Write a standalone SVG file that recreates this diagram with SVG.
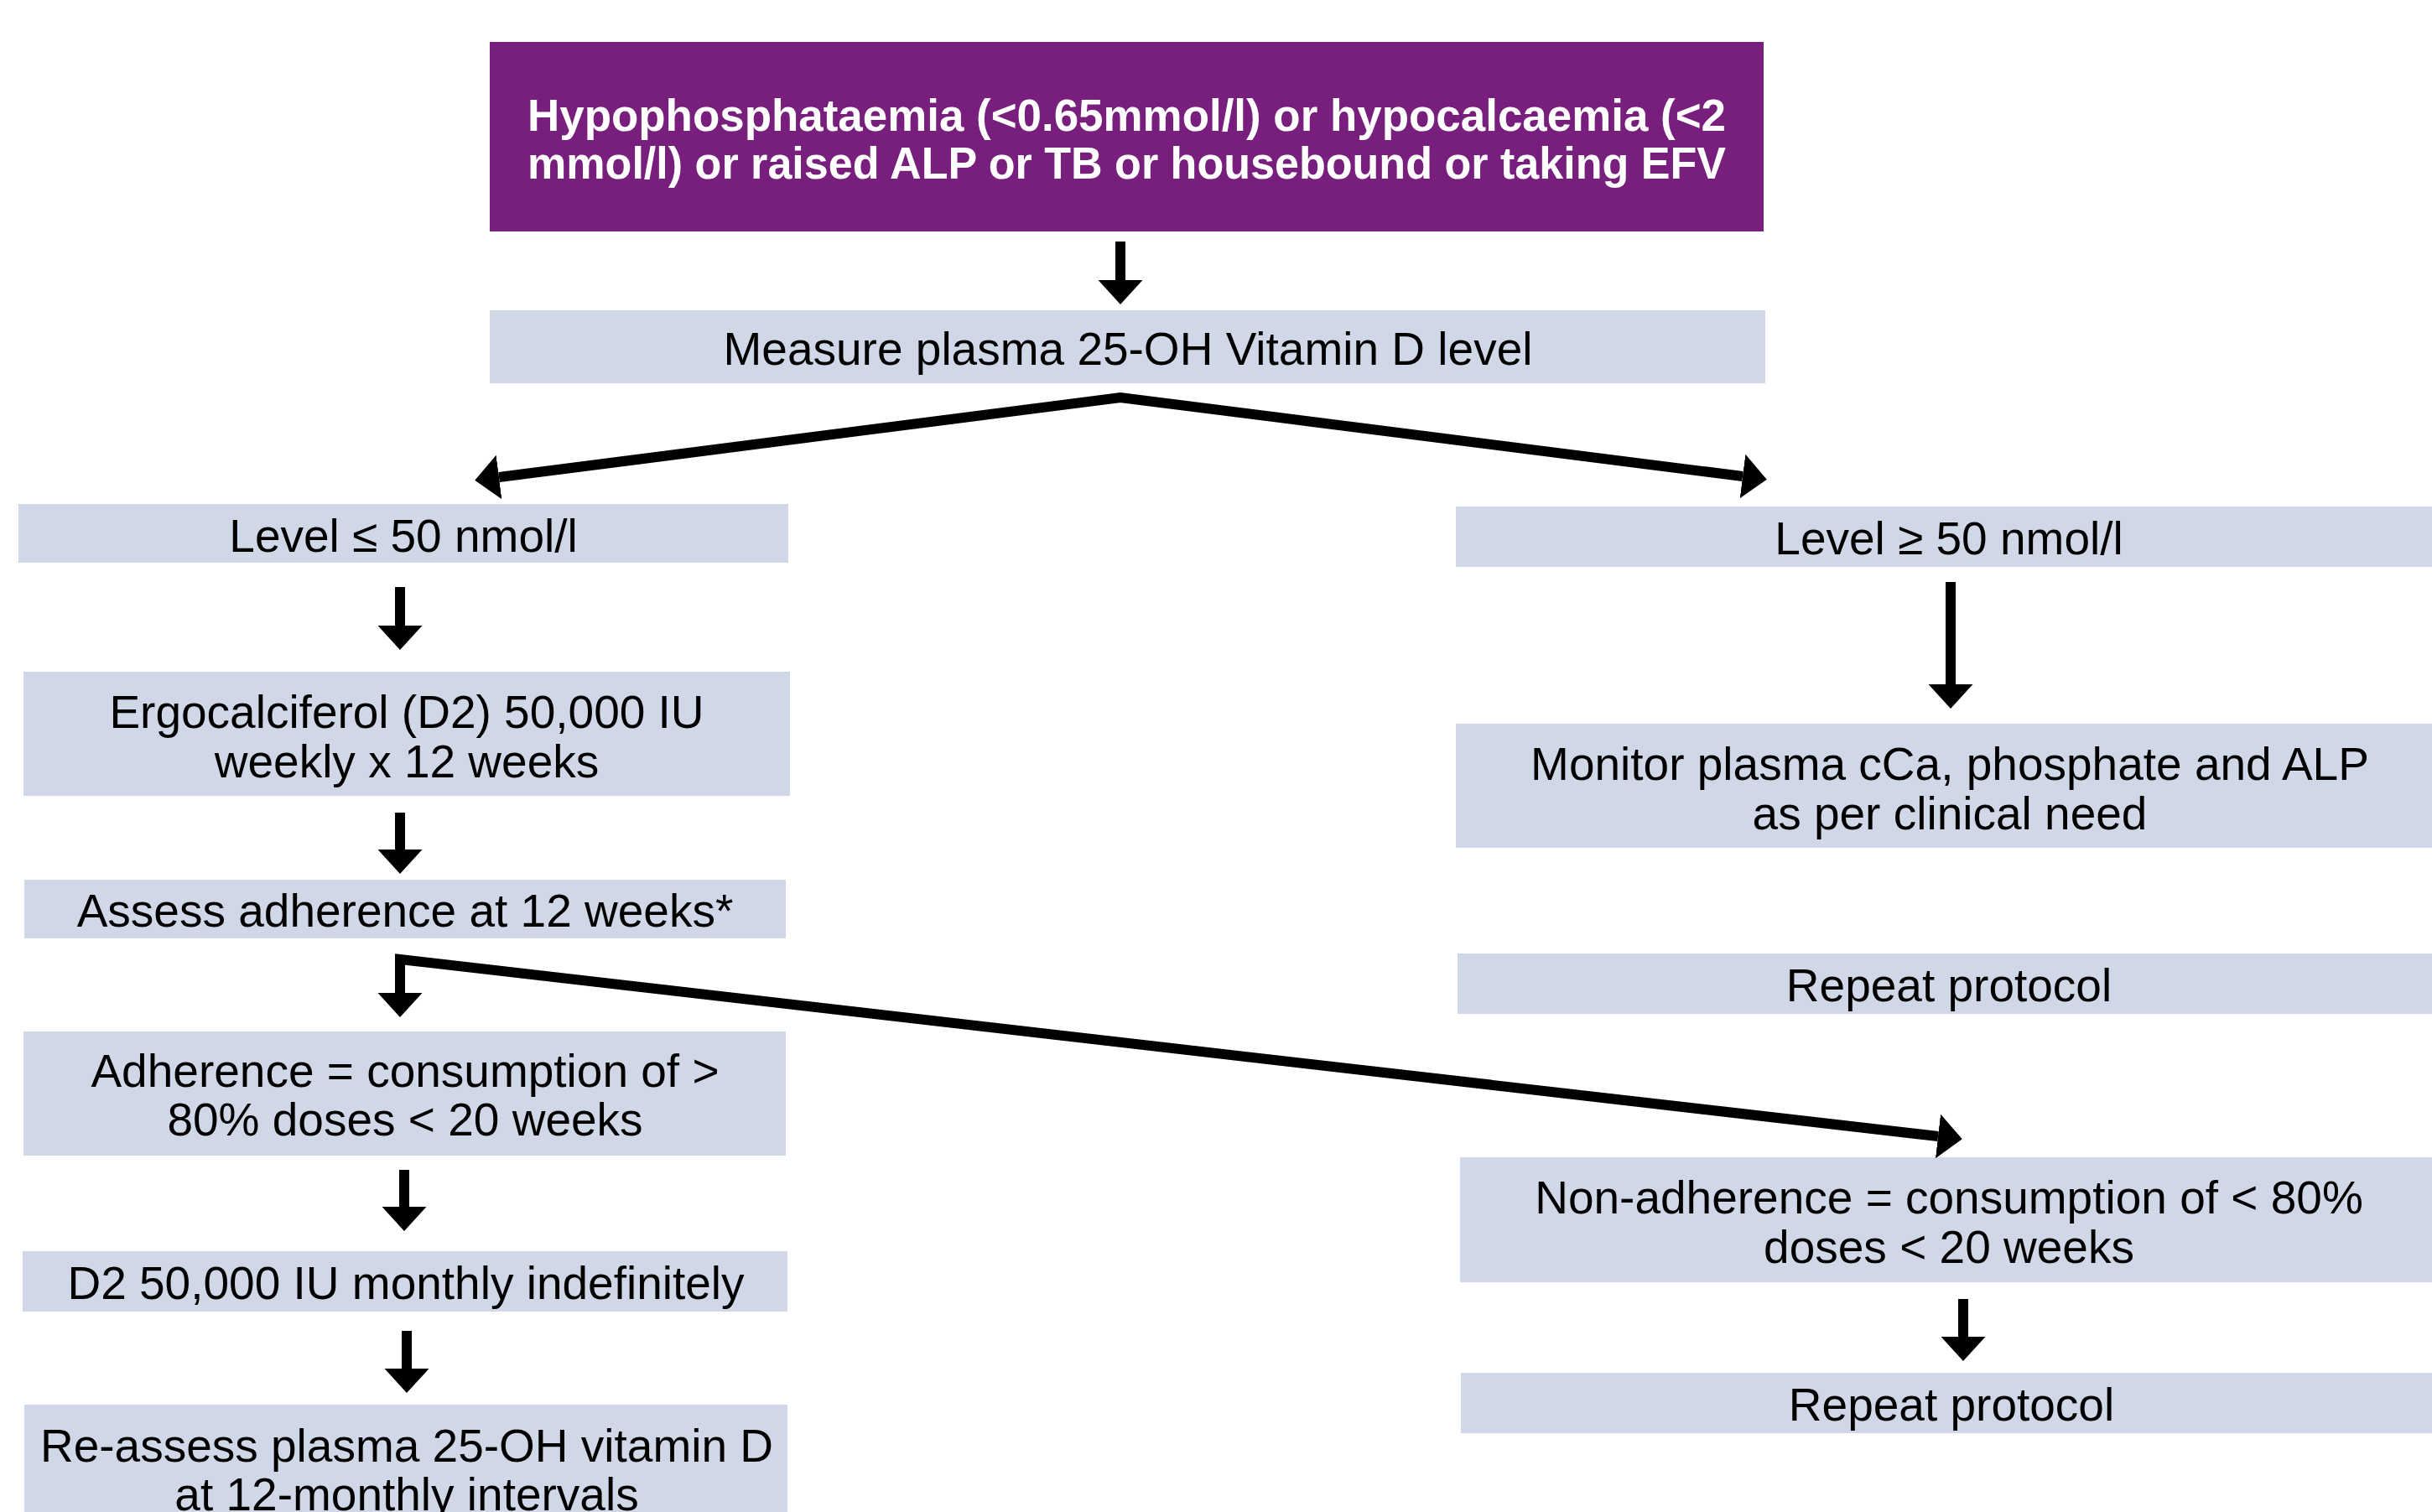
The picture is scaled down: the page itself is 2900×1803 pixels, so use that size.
<svg xmlns="http://www.w3.org/2000/svg" width="2900" height="1803" viewBox="0 0 2900 1803">
<style>
.box{fill:#D0D8E7}
.hdr{fill:#781E7D}
.t{font-family:"Liberation Sans",Arial,sans-serif;font-size:55px;fill:#000;text-anchor:middle}
.tb{font-family:"Liberation Sans",Arial,sans-serif;font-size:53px;font-weight:bold;fill:#fff}
.c{fill:none;stroke:#000;stroke-width:12;stroke-linejoin:miter;stroke-miterlimit:20}
</style>
<defs>
<marker id="ah" viewBox="0 0 29 53" markerWidth="29" markerHeight="53" refX="0" refY="26.5" orient="auto" markerUnits="userSpaceOnUse">
<path d="M0,0 L29,26.5 L0,53 Z" fill="#000"/>
</marker>
<marker id="ahs" viewBox="0 0 29 53" markerWidth="29" markerHeight="53" refX="0" refY="26.5" orient="auto-start-reverse" markerUnits="userSpaceOnUse">
<path d="M0,0 L29,26.5 L0,53 Z" fill="#000"/>
</marker>
</defs>
<rect width="2900" height="1803" fill="#fff"/>

<g id="n-criteria">
<rect class="hdr" x="584" y="50" width="1519" height="226"/>
<text class="tb" x="629" y="156" textLength="1429" lengthAdjust="spacingAndGlyphs">Hypophosphataemia (&lt;0.65mmol/l) or hypocalcaemia (&lt;2</text>
<text class="tb" x="629" y="213" textLength="1429" lengthAdjust="spacingAndGlyphs">mmol/l) or raised ALP or TB or housebound or taking EFV</text>
</g>

<g id="n-measure">
<rect class="box" x="584" y="370" width="1521" height="87"/>
<text class="t" x="1345" y="435">Measure plasma 25-OH Vitamin D level</text>
</g>

<g id="n-level-low">
<rect class="box" x="22" y="601" width="918" height="70"/>
<text class="t" x="481" y="658">Level ≤ 50 nmol/l</text>
</g>

<g id="n-ergo">
<rect class="box" x="28" y="801" width="914" height="148"/>
<text class="t" x="485" y="868">Ergocalciferol (D2) 50,000 IU</text>
<text class="t" x="485" y="927">weekly x 12 weeks</text>
</g>

<g id="n-assess">
<rect class="box" x="29" y="1049" width="908" height="70"/>
<text class="t" x="483" y="1105">Assess adherence at 12 weeks*</text>
</g>

<g id="n-adherence">
<rect class="box" x="28" y="1230" width="909" height="148"/>
<text class="t" x="483" y="1296">Adherence = consumption of &gt;</text>
<text class="t" x="483" y="1354">80% doses &lt; 20 weeks</text>
</g>

<g id="n-d2-monthly">
<rect class="box" x="27" y="1492" width="912" height="72"/>
<text class="t" x="484" y="1549">D2 50,000 IU monthly indefinitely</text>
</g>

<g id="n-reassess">
<rect class="box" x="29" y="1675" width="910" height="140"/>
<text class="t" x="485" y="1743">Re-assess plasma 25-OH vitamin D</text>
<text class="t" x="485" y="1801">at 12-monthly intervals</text>
</g>

<g id="n-level-high">
<rect class="box" x="1736" y="604" width="1176" height="72"/>
<text class="t" x="2324" y="661">Level ≥ 50 nmol/l</text>
</g>

<g id="n-monitor">
<rect class="box" x="1736" y="863" width="1176" height="148"/>
<text class="t" x="2325" y="930">Monitor plasma cCa, phosphate and ALP</text>
<text class="t" x="2325" y="989">as per clinical need</text>
</g>

<g id="n-repeat-1">
<rect class="box" x="1738" y="1137" width="1174" height="72"/>
<text class="t" x="2324" y="1194">Repeat protocol</text>
</g>

<g id="n-nonadherence">
<rect class="box" x="1741" y="1380" width="1171" height="149"/>
<text class="t" x="2324" y="1447">Non-adherence = consumption of &lt; 80%</text>
<text class="t" x="2324" y="1506">doses &lt; 20 weeks</text>
</g>

<g id="n-repeat-2">
<rect class="box" x="1742" y="1637" width="1170" height="72"/>
<text class="t" x="2327" y="1694">Repeat protocol</text>
</g>

<g id="connectors">
<path class="c" d="M1336,288 L1336,334" marker-end="url(#ah)"/>
<path class="c" d="M595,569 L1336,474 L2078,568" marker-start="url(#ahs)" marker-end="url(#ah)"/>
<path class="c" d="M477,700 L477,746" marker-end="url(#ah)"/>
<path class="c" d="M477,969 L477,1013" marker-end="url(#ah)"/>
<path class="c" d="M477,1184 L477,1144 L2311,1355" marker-start="url(#ahs)" marker-end="url(#ah)"/>
<path class="c" d="M482,1395 L482,1439" marker-end="url(#ah)"/>
<path class="c" d="M485,1587 L485,1632" marker-end="url(#ah)"/>
<path class="c" d="M2326,694 L2326,816" marker-end="url(#ah)"/>
<path class="c" d="M2341,1549 L2341,1594" marker-end="url(#ah)"/>
</g>
</svg>
